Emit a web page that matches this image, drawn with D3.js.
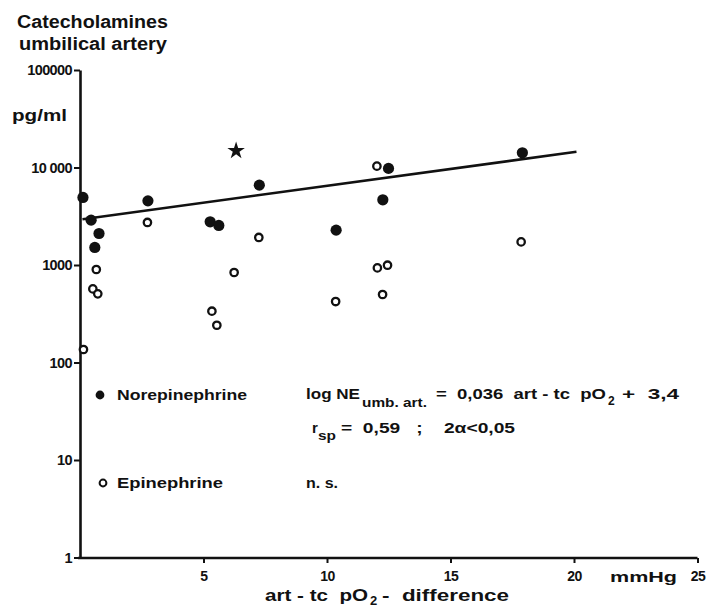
<!DOCTYPE html>
<html><head><meta charset="utf-8">
<script src="https://cdn.jsdelivr.net/npm/d3@7"></script>
<style>
html,body{margin:0;padding:0;background:#fff;}
svg{display:block;}
text{font-family:"Liberation Sans","DejaVu Sans",Arial,sans-serif;font-weight:bold;fill:#111;white-space:pre;}
</style></head>
<body><svg id="c" width="710" height="610"></svg>
<script>
// ---- data ----
const neX = [0.12, 0.45, 0.77, 0.60, 2.75, 5.27, 5.62, 7.26, 10.37, 12.26, 12.49, 17.91];
const neY = [4930, 2884, 2105, 1513, 4550, 2773, 2545, 6590, 2277, 4660, 9790, 14160];
const epiX = [2.73, 7.24, 6.24, 0.66, 0.52, 0.72, 5.34, 5.54, 10.35, 0.14, 12.02, 12.04, 12.45, 12.25, 17.86];
const epiY = [2730, 1916, 838, 899, 569, 506, 336, 241, 422, 136, 10330, 934, 995, 498, 1726];
const starX = [6.32];
const starY = [14840];
const lineX = [0.1, 20.1];
const lineY = [2950, 14500];
const yTicks = [1, 10, 100, 1000, 10000, 100000];
const yTickLabels = ["1", "10", "100", "1000", "10 000", "100000"];
const xTicks = [5, 10, 15, 20, 25];
const xTickLabels = ["5", "10", "15", "20", "25"];

const svg = d3.select("#c");
svg.append("rect").attr("width",710).attr("height",610).attr("fill","#fff");

const x = d3.scaleLinear().domain([0,25]).range([80,697.5]);
const y = d3.scaleLog().domain([1,100000]).range([557.5,70]);

// axes
const yAxis = d3.axisLeft(y).tickValues(yTicks)
  .tickFormat((d,i)=>yTickLabels[i]).tickSize(6).tickSizeOuter(0).tickPadding(2);
const gy = svg.append("g").attr("transform","translate(80,0)").call(yAxis);
gy.select(".domain").attr("stroke","#111").attr("stroke-width",2.6);
gy.selectAll(".tick line").attr("stroke","#111").attr("stroke-width",2);
gy.selectAll(".tick text").style("font-size","14.5px").attr("fill","#111").attr("letter-spacing","-0.6px");

const xAxis = d3.axisBottom(x).tickValues(xTicks)
  .tickFormat((d,i)=>xTickLabels[i]).tickSize(5).tickSizeOuter(0).tickPadding(8);
const gx = svg.append("g").attr("transform","translate(0,558)").call(xAxis);
gx.select(".domain").attr("stroke","#111").attr("stroke-width",2.6)
  .attr("d", `M${x(0)-2},0H${x(25)}`);
gx.selectAll(".tick line").attr("stroke","#111").attr("stroke-width",2);
gx.selectAll(".tick text").style("font-size","14px").attr("fill","#111").attr("letter-spacing","-0.5px");

// regression line
svg.append("path")
  .datum(lineX.map((v,i)=>[v,lineY[i]]))
  .attr("d", d3.line().x(d=>x(d[0])).y(d=>y(d[1])))
  .attr("stroke","#111").attr("stroke-width",2.6).attr("fill","none");

// epinephrine (open)
svg.append("g").selectAll("circle").data(epiX.map((v,i)=>[v,epiY[i]])).join("circle")
  .attr("cx",d=>x(d[0])).attr("cy",d=>y(d[1])).attr("r",3.7)
  .attr("fill","#fff").attr("stroke","#111").attr("stroke-width",2.3);

// norepinephrine (filled)
svg.append("g").selectAll("circle").data(neX.map((v,i)=>[v,neY[i]])).join("circle")
  .attr("cx",d=>x(d[0])).attr("cy",d=>y(d[1])).attr("r",5.6)
  .attr("fill","#111");

// star
svg.append("g").selectAll("path").data(starX.map((v,i)=>[v,starY[i]])).join("path")
  .attr("transform",d=>`translate(${x(d[0])},${y(d[1])})`)
  .attr("d", d3.symbol().type(d3.symbolStar).size(95)())
  .attr("fill","#111");

// helper for fitted text
function txt(s, xx, yy, size, len){
  const t = svg.append("text").attr("x",xx).attr("y",yy).style("font-size",size+"px").text(s);
  if(len) t.attr("textLength",len).attr("lengthAdjust","spacingAndGlyphs");
  return t;
}

// titles
txt("Catecholamines",17,28,18,151);
txt("umbilical artery",19,50,18,148);
txt("pg/ml",12,121,17,55);

// legend
svg.append("circle").attr("cx",100).attr("cy",395).attr("r",4.4).attr("fill","#111");
txt("Norepinephrine",117,400,14,130);
svg.append("circle").attr("cx",103).attr("cy",483).attr("r",3.4)
  .attr("fill","#fff").attr("stroke","#111").attr("stroke-width",2);
txt("Epinephrine",117,488,14,106);

// equation
txt("log NE",306,399,15,54);
txt("umb. art.",362,407,13,65);
txt("=  0,036  art - tc  pO",436,399,15,170);
txt("2",608,405,12);
txt("+  3,4",622,399,15,57);

txt("r",312,433,15);
txt("sp",318,440,13,18);
txt("=  0,59   ;    2α<0,05",341,433,15,174);

txt("n. s.",306,488,14,32);

// x axis units and title
txt("mmHg",610,582,15,67);
txt("art - tc  pO",265,601,17,103);
txt("2",370,605,13);
txt("-  difference",382,601,17,127);
</script></body></html>
